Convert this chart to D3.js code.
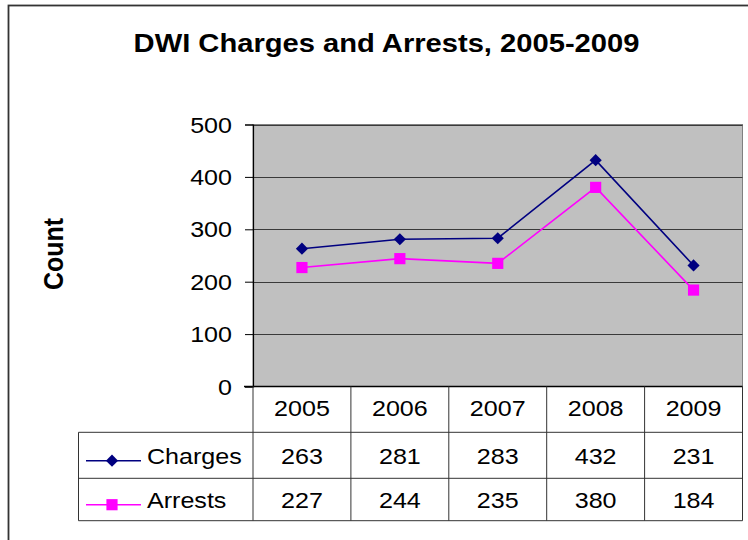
<!DOCTYPE html>
<html><head><meta charset="utf-8">
<script src="https://cdn.jsdelivr.net/npm/d3@7"></script>
<style>html,body{margin:0;padding:0;background:#fff;}svg{display:block;}</style>
</head><body>
<script>
const years = ["2005","2006","2007","2008","2009"];
const charges = [263, 281, 283, 432, 231];
const arrests = [227, 244, 235, 380, 184];
const yTicks = [0, 100, 200, 300, 400, 500];
const seriesNames = ["Charges", "Arrests"];

(function () {
const W = 748, H = 540;
const FONT = "'Liberation Sans', Arial, sans-serif";
const SX = 1.1; // horizontal text stretch seen in reference

const svg = d3.select("body").append("svg").attr("width", W).attr("height", H);

// outer border
svg.append("rect").attr("x", 8.5).attr("y", 5.5).attr("width", 760).attr("height", 560)
  .attr("fill", "#fff").attr("stroke", "#333").attr("stroke-width", 1.8);

function txt(x, y, s, o = {}) {
  return svg.append("text")
    .attr("transform", `translate(${x},${y}) scale(${SX},1)` + (o.rot ? ` rotate(${o.rot})` : ""))
    .attr("text-anchor", o.anchor || "middle")
    .attr("font-family", FONT)
    .attr("font-size", o.size || 22.8)
    .attr("font-weight", o.bold ? "bold" : "normal")
    .attr("fill", "#000")
    .text(s);
}

// title
txt(386.5, 52, "DWI Charges and Arrests, 2005-2009", {size: 26.5, bold: true});
// y label
txt(62.5, 254, "Count", {size: 25, bold: true, rot: -90});

const pLeft = 253, pRight = 742.5, pTop = 124.5, pBottom = 386.5;
const x = d3.scaleBand().domain(years).range([pLeft, pRight]).padding(0);
const y = d3.scaleLinear().domain([0, 500]).range([pBottom, pTop]);

// plot area
svg.append("rect").attr("x", pLeft).attr("y", pTop).attr("width", pRight - pLeft).attr("height", pBottom - pTop)
  .attr("fill", "#C0C0C0").attr("stroke", "#808080").attr("stroke-width", 1);

// gridlines
svg.append("g").selectAll("line").data(yTicks.filter(d => d > 0)).join("line")
  .attr("x1", pLeft).attr("x2", pRight)
  .attr("y1", d => Math.round(y(d)) + 0.5).attr("y2", d => Math.round(y(d)) + 0.5)
  .attr("stroke", "#3a3a3a").attr("stroke-width", 1);

// y axis
const yAxis = svg.append("g").attr("transform", `translate(${pLeft},0)`)
  .call(d3.axisLeft(y).tickValues(yTicks).tickSize(8).tickPadding(0).tickFormat(d3.format("d")));
yAxis.select(".domain").attr("stroke", "#000").attr("stroke-width", 1.2);
yAxis.selectAll(".tick line").attr("stroke", "#000");
yAxis.selectAll(".tick text").remove();
yTicks.forEach(t => txt(232, y(t) + 8, String(t), {anchor: "end"}));

// x axis line
svg.append("line").attr("x1", 244).attr("x2", pRight).attr("y1", pBottom).attr("y2", pBottom)
  .attr("stroke", "#000").attr("stroke-width", 1.5);

// data table
const rowTop = [386.5, 432.3, 478.3, 520.7];
const tbl = svg.append("g").attr("stroke", "#333").attr("stroke-width", 1);
const vx = years.map(yr => x(yr)).concat([pRight]);
vx.forEach(v => tbl.append("line").attr("x1", v).attr("x2", v).attr("y1", rowTop[0]).attr("y2", rowTop[3]));
tbl.append("line").attr("x1", 78.5).attr("x2", 78.5).attr("y1", rowTop[1]).attr("y2", rowTop[3]);
[rowTop[1], rowTop[2], rowTop[3]].forEach(h => tbl.append("line").attr("x1", 78.5).attr("x2", pRight).attr("y1", h).attr("y2", h));

// table text
years.forEach(yr => txt(x(yr) + x.bandwidth() / 2, 416, yr));
charges.forEach((v, i) => txt(x(years[i]) + x.bandwidth() / 2, 464, String(v)));
arrests.forEach((v, i) => txt(x(years[i]) + x.bandwidth() / 2, 507.7, String(v)));

// series lines + markers
const cx = d => x(d) + x.bandwidth() / 2;
const line = d3.line().x((d, i) => cx(years[i])).y(d => y(d));
const series = [
  {name: seriesNames[0], values: charges, color: "#000080", size: 74, rot: 45, legY: 460.7, txtY: 464},
  {name: seriesNames[1], values: arrests, color: "#FF00FF", size: 125, rot: 0, legY: 504.7, txtY: 507.7}
];
series.slice().reverse().forEach(s => {
  svg.append("path").datum(s.values).attr("d", line).attr("fill", "none")
    .attr("stroke", s.color).attr("stroke-width", 1.6);
  svg.append("g").selectAll("path").data(s.values).join("path")
    .attr("transform", (d, i) => `translate(${cx(years[i])},${y(d)}) rotate(${s.rot})`)
    .attr("d", d3.symbol().type(d3.symbolSquare).size(s.size)).attr("fill", s.color);
});

// legend keys
series.forEach(s => {
  svg.append("line").attr("x1", 86).attr("x2", 141).attr("y1", s.legY).attr("y2", s.legY)
    .attr("stroke", s.color).attr("stroke-width", 1.6);
  svg.append("path").attr("transform", `translate(112,${s.legY}) rotate(${s.rot})`)
    .attr("d", d3.symbol().type(d3.symbolSquare).size(s.size)).attr("fill", s.color);
  txt(147, s.txtY, s.name, {anchor: "start"});
});
})();
</script>
</body></html>
